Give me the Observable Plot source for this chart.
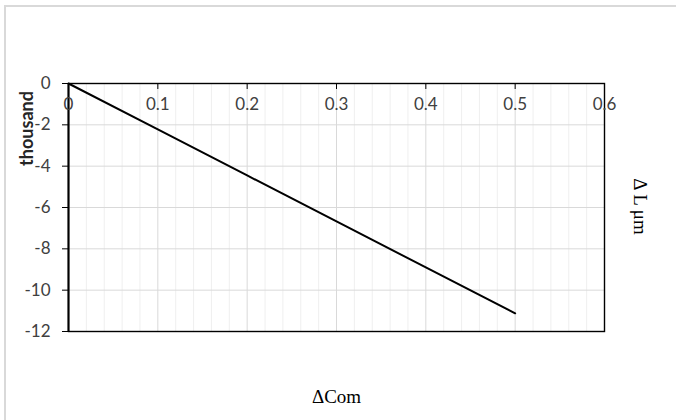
<!DOCTYPE html>
<html>
<head>
<meta charset="utf-8">
<script src="https://cdn.jsdelivr.net/npm/d3@7"></script>
<script src="https://cdn.jsdelivr.net/npm/@observablehq/plot@0.6"></script>
<style>
  html, body { margin: 0; padding: 0; background: #fff; overflow: hidden; }
  #wrap { position: relative; width: 676px; height: 420px; overflow: hidden; }
  #outer { position: absolute; left: 4px; top: 5px; width: 800px; height: 600px;
           border-left: 2px solid #d9d9d9; border-top: 2px solid #d9d9d9; }
  #chart { position: absolute; left: 0; top: 0; }
</style>
</head>
<body>
<div id="wrap"><div id="outer"></div><div id="chart"></div></div>
<script>
// Data
const comValues = [0, 0.1, 0.2, 0.3, 0.4, 0.5];
const dLValues = [0, -2.22, -4.45, -6.67, -8.9, -11.12];
const xMajorTicks = [0, 0.1, 0.2, 0.3, 0.4, 0.5, 0.6];
const xMinorTicks = [0.02, 0.04, 0.06, 0.08, 0.12, 0.14, 0.16, 0.18, 0.22, 0.24, 0.26, 0.28,
                     0.32, 0.34, 0.36, 0.38, 0.42, 0.44, 0.46, 0.48, 0.52, 0.54, 0.56, 0.58];
const yTicks = [0, -2, -4, -6, -8, -10, -12];
const yAxisTitle = "thousand";
const xAxisTitle = "ΔCom";
const rightTitle = "Δ L μm";

const data = comValues.map((c, i) => ({com: c, dl: dLValues[i]}));
const tickFont = "Lato, 'Open Sans', sans-serif";
const serif = "'Liberation Serif', 'Times New Roman', serif";

const plot = Plot.plot({
  width: 676,
  height: 420,
  marginLeft: 68,
  marginRight: 72,
  marginTop: 83,
  marginBottom: 89,
  style: {background: "transparent", fontFamily: tickFont},
  x: {domain: [0, 0.6]},
  y: {domain: [-12, 0]},
  marks: [
    Plot.ruleX(xMinorTicks, {stroke: "#efefef", strokeWidth: 1}),
    Plot.ruleX(xMajorTicks, {stroke: "#d9d9d9", strokeWidth: 1}),
    Plot.ruleY(yTicks, {stroke: "#d9d9d9", strokeWidth: 1}),
    Plot.frame({stroke: "#000", strokeWidth: 1.4}),
    Plot.ruleX([0], {stroke: "#000", strokeWidth: 2}),
    Plot.axisY({
      ticks: yTicks, anchor: "left", tickSize: 6, tickPadding: 12,
      tickFormat: d => String(d), fontSize: 17, label: null,
      color: "#404040", stroke: "#000"
    }),
    Plot.axisX({
      ticks: xMajorTicks.slice(1, -1), anchor: "top", tickSize: 5, dy: 5,
      tickFormat: () => "", label: null, stroke: "#000"
    }),
    Plot.text(xMajorTicks, {
      x: d => d, y: () => 0, text: d => String(d), dy: 21,
      fontSize: 17, fill: "#404040", fontFamily: tickFont
    }),
    Plot.line(data, {x: "com", y: "dl", stroke: "#000", strokeWidth: 2}),
    Plot.text([yAxisTitle], {
      text: d => d, frameAnchor: "left", textAnchor: "middle", dx: -41, dy: -79, rotate: -90,
      fontSize: 18, fontWeight: "bold", fill: "#262626", fontFamily: "Lato, sans-serif"
    }),
    Plot.text([rightTitle], {
      text: d => d, frameAnchor: "right", textAnchor: "middle", dx: 36, dy: -1, rotate: 90,
      fontSize: 19, fill: "#000", fontFamily: serif
    }),
    Plot.text([xAxisTitle], {
      text: d => d, frameAnchor: "bottom", textAnchor: "middle", dy: 71,
      fontSize: 19, fill: "#000", fontFamily: serif
    })
  ]
});
document.getElementById("chart").appendChild(plot);
</script>
</body>
</html>
